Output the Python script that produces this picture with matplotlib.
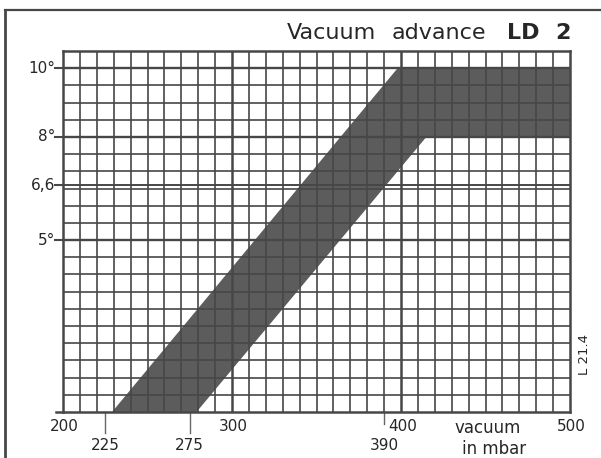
import matplotlib

matplotlib.use("Agg")
import matplotlib.pyplot as plt
from matplotlib.lines import Line2D
import numpy as np

# advance band: upper (early) and lower (late) edge, vacuum in mbar vs degrees
upper_vacuum = [229, 398, 500]
upper_advance = [0, 10, 10]
lower_vacuum = [279, 415, 500]
lower_advance = [0, 8, 8]

y_ticks = [10, 8, 6.6, 5]
y_tick_labels = ["10°", "8°", "6,6", "5°"]
x_major = [200, 300, 400, 500]
x_marks = [225, 275, 390]

INK = "#474747"
TEXT = "#262626"
BAND = "#5c5c5c"

fig = plt.figure(figsize=(6.01, 4.58), dpi=100)
fig.patch.set_facecolor("white")
ax = fig.add_axes([63 / 601, 1 - 412 / 458, (570 - 63) / 601, (412 - 51) / 458])
ax.set_xlim(200, 500)
ax.set_ylim(0, 10.5)

# shaded band
poly_x = upper_vacuum + lower_vacuum[::-1]
poly_y = upper_advance + lower_advance[::-1]
ax.fill(poly_x, poly_y, color=BAND, lw=0, zorder=1)

# fine grid: 10 mbar x 0.5 deg
for x in np.arange(210, 500, 10):
    lw = 1.8 if x in (300, 400) else 1.2
    ax.axvline(x, color=INK, lw=lw, zorder=2)
for y in np.arange(0.5, 10.5, 0.5):
    lw = 1.7 if y in (10, 8, 5) else 1.2
    ax.axhline(y, color=INK, lw=lw, zorder=2)
ax.axhline(6.6, color=INK, lw=1.4, zorder=2)

for side in ax.spines.values():
    side.set_color(INK)
    side.set_linewidth(1.8)
ax.set_xticks([])
ax.set_yticks([])

# y labels with short ticks out to the left
for val, lab in zip(y_ticks, y_tick_labels):
    ax.plot([195, 200], [val, val], color=INK, lw=1.5, clip_on=False)
    ax.text(195.5, val, lab, ha="right", va="center", fontsize=11, color=TEXT)

# bottom axis line runs a little past the left edge
ax.plot([196, 200], [0, 0], color=INK, lw=1.8, clip_on=False)

for val in x_major:
    ax.text(val + 1, -0.2, str(val), ha="center", va="top", fontsize=11, color=TEXT)
for val in x_marks:
    depth = -0.35 if val == 390 else -0.6
    ax.plot([val, val], [0, depth], color="#666666", lw=1.0, clip_on=False)
    ax.text(val, -0.75, str(val), ha="center", va="top", fontsize=11, color=TEXT)

ax.text(451, -0.2, "vacuum", ha="center", va="top", fontsize=12, color=TEXT)
ax.text(455, -0.8, "in mbar", ha="center", va="top", fontsize=12, color=TEXT)
ax.text(505, 1.66, "L 21.4", rotation=90, ha="left", va="center", fontsize=9.5, color=TEXT)

# title set in pieces so the words spread like the printed heading
title_y = 1 - 39 / 458
fig.text(287 / 601, title_y, "Vacuum", ha="left", va="baseline", fontsize=16, color=TEXT)
fig.text(392 / 601, title_y, "advance", ha="left", va="baseline", fontsize=16, color=TEXT)
fig.text(507 / 601, title_y, "LD", ha="left", va="baseline", fontsize=16,
         fontweight="bold", color=TEXT)
fig.text(571 / 601, title_y, "2", ha="right", va="baseline", fontsize=16,
         fontweight="bold", color=TEXT)

# page frame
fig.add_artist(Line2D([5 / 601, 5 / 601], [0, 1 - 10 / 458], transform=fig.transFigure,
                      color=INK, lw=2.0))
fig.add_artist(Line2D([5 / 601, 1], [1 - 10 / 458, 1 - 10 / 458], transform=fig.transFigure,
                      color=INK, lw=1.6))

fig.savefig("out.png", dpi=100)
